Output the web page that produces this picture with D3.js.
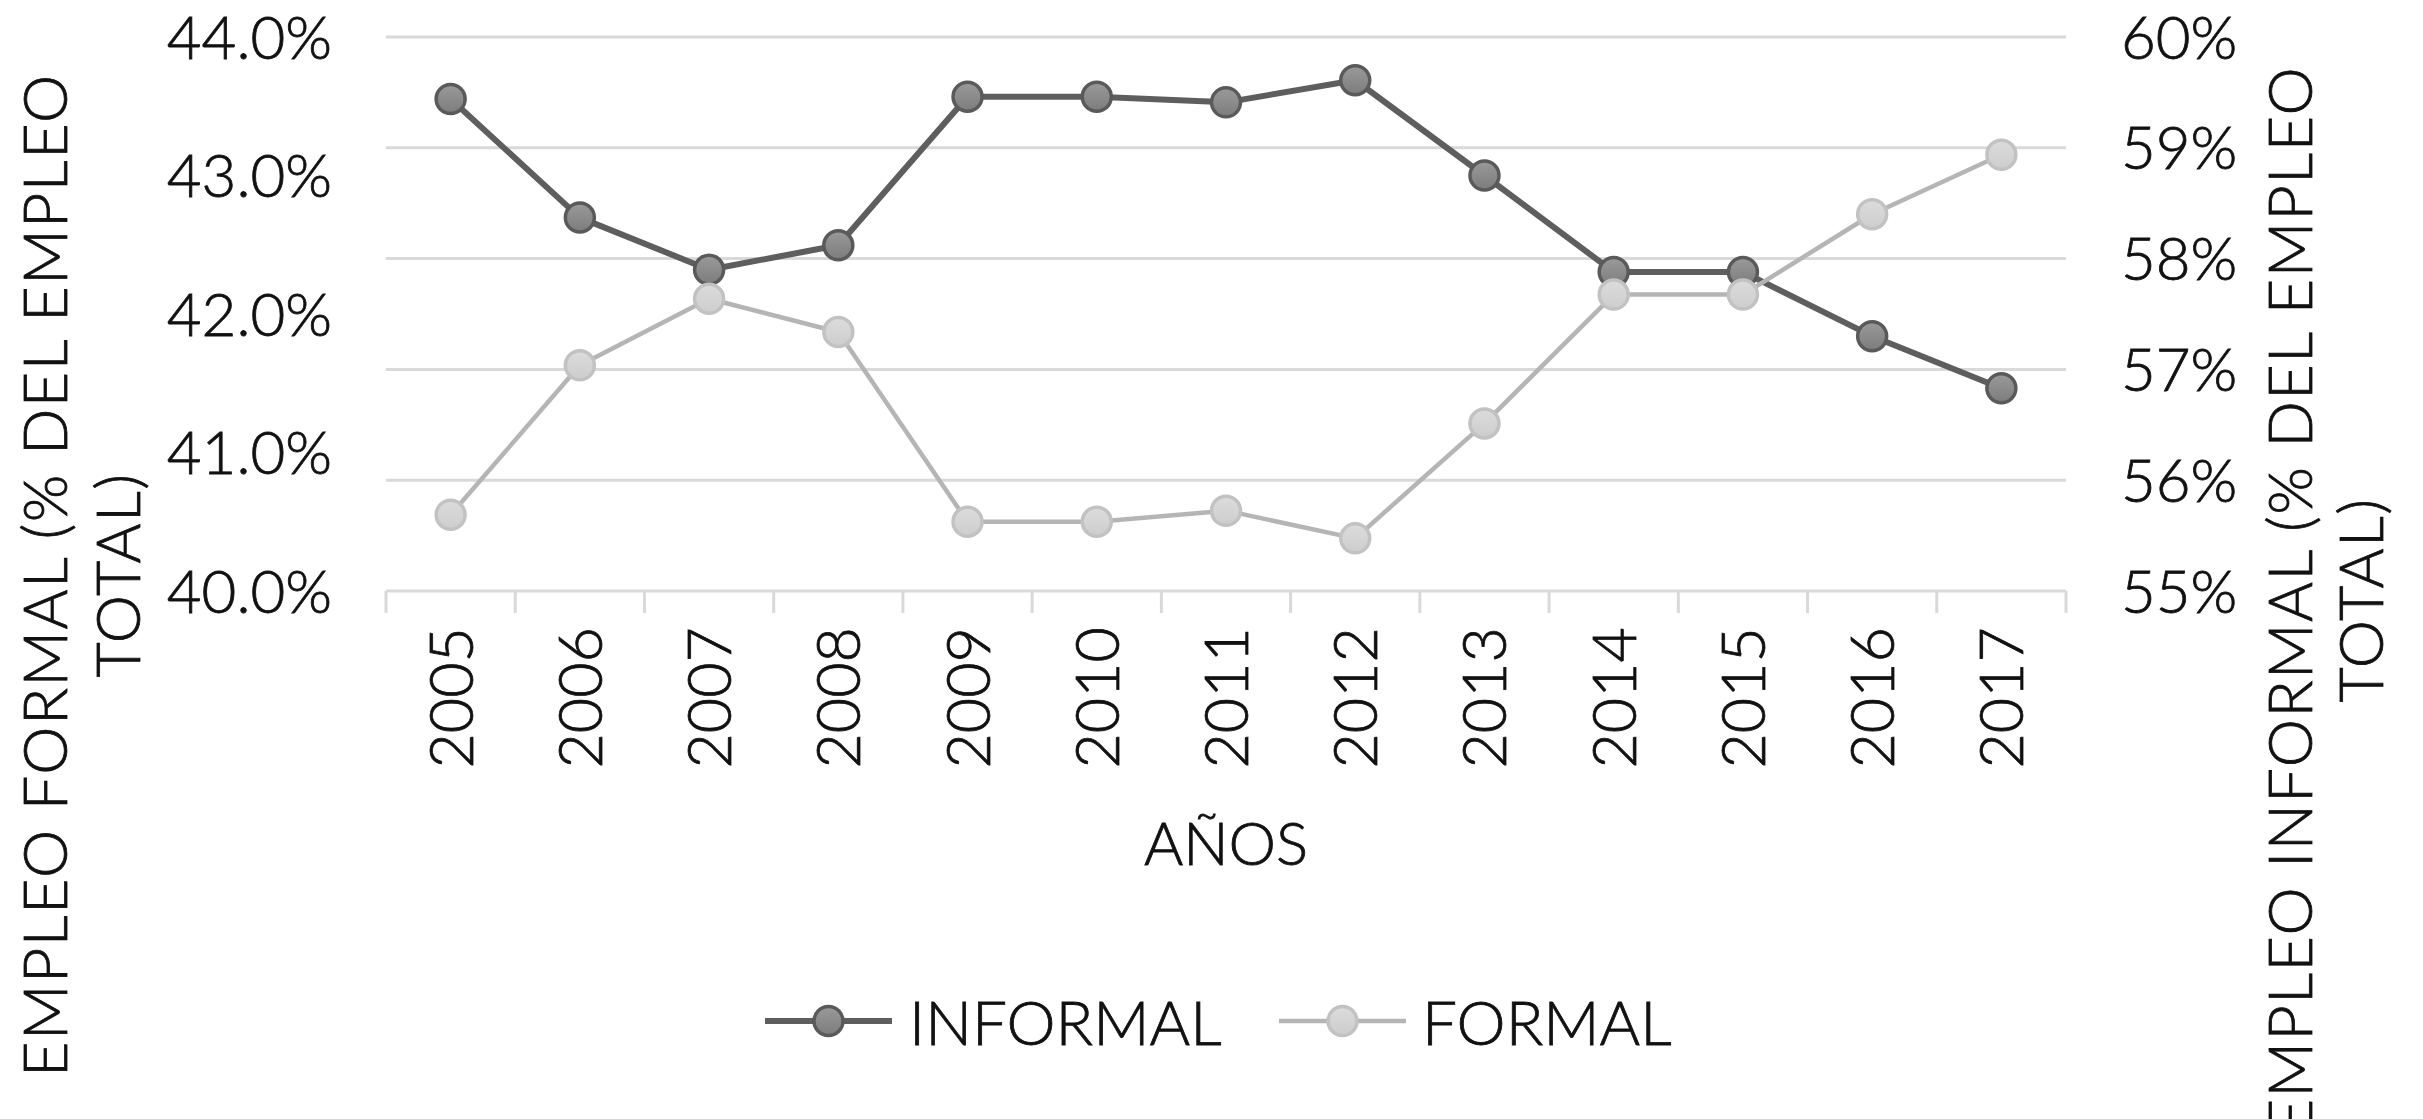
<!DOCTYPE html>
<html>
<head>
<meta charset="utf-8">
<script src="https://cdn.jsdelivr.net/npm/d3@7"></script>
<style>
  html, body { margin: 0; padding: 0; background: #fff; }
  text { font-family: Lato, "Open Sans", sans-serif; font-weight: 300; fill: #111; stroke: #111; stroke-width: 0.8px; }
</style>
</head>
<body>
<div id="chart"></div>
<script>
// datos
const years = ['2005', '2006', '2007', '2008', '2009', '2010', '2011', '2012', '2013', '2014', '2015', '2016', '2017'];
const informal = [59.44, 58.37, 57.90, 58.12, 59.46, 59.46, 59.41, 59.61, 58.75, 57.88, 57.88, 57.30, 56.83];
const formal = [40.55, 41.63, 42.11, 41.87, 40.50, 40.50, 40.58, 40.38, 41.21, 42.14, 42.14, 42.72, 43.15];
const leftTicks = [40, 41, 42, 43, 44];
const rightTicks = [55, 56, 57, 58, 59, 60];

const width = 2423, height = 1119;
const plot = {left: 386, right: 2066, top: 37, bottom: 591};

const svg = d3.select('#chart').append('svg')
    .attr('width', width)
    .attr('height', height);

const defs = svg.append('defs');
const gradInf = defs.append('linearGradient').attr('id', 'g-inf').attr('x1', 0).attr('y1', 0).attr('x2', 0).attr('y2', 1);
gradInf.append('stop').attr('offset', '0%').attr('stop-color', '#9a9a9a');
gradInf.append('stop').attr('offset', '100%').attr('stop-color', '#7c7c7c');
const gradFor = defs.append('linearGradient').attr('id', 'g-for').attr('x1', 0).attr('y1', 0).attr('x2', 0).attr('y2', 1);
gradFor.append('stop').attr('offset', '0%').attr('stop-color', '#dcdcdc');
gradFor.append('stop').attr('offset', '100%').attr('stop-color', '#cdcdcd');

const x = d3.scaleBand().domain(years).range([plot.left, plot.right]).padding(0);
const yL = d3.scaleLinear().domain([40, 44]).range([plot.bottom, plot.top]);
const yR = d3.scaleLinear().domain([55, 60]).range([plot.bottom, plot.top]);

// lineas de cuadricula (eje secundario)
svg.append('g').selectAll('line')
    .data(rightTicks.slice(1))
    .enter().append('line')
    .attr('x1', plot.left).attr('x2', plot.right)
    .attr('y1', d => yR(d)).attr('y2', d => yR(d))
    .attr('stroke', '#d9d9d9')
    .attr('stroke-width', 3);

// eje x
svg.append('line')
    .attr('x1', plot.left).attr('x2', plot.right)
    .attr('y1', plot.bottom).attr('y2', plot.bottom)
    .attr('stroke', '#d9d9d9').attr('stroke-width', 3);

const bounds = years.map(d => x(d)).concat([plot.right]);
svg.append('g').selectAll('line')
    .data(bounds)
    .enter().append('line')
    .attr('x1', d => d).attr('x2', d => d)
    .attr('y1', plot.bottom).attr('y2', plot.bottom + 22)
    .attr('stroke', '#d9d9d9').attr('stroke-width', 3);

svg.append('g').selectAll('text')
    .data(years)
    .enter().append('text')
    .attr('transform', d => `translate(${x(d) + x.bandwidth() / 2 + 22}, 627) rotate(-90)`)
    .attr('text-anchor', 'end')
    .style('font-size', '61px')
    .text(d => d);

// etiquetas eje izquierdo
svg.append('g').selectAll('text')
    .data(leftTicks)
    .enter().append('text')
    .attr('x', 332)
    .attr('y', d => yL(d))
    .attr('dy', '0.36em')
    .attr('text-anchor', 'end')
    .style('font-size', '60px')
    .text(d => d.toFixed(1) + '%');

// etiquetas eje derecho
svg.append('g').selectAll('text')
    .data(rightTicks)
    .enter().append('text')
    .attr('x', 2121)
    .attr('y', d => yR(d))
    .attr('dy', '0.36em')
    .attr('text-anchor', 'start')
    .style('font-size', '60px')
    .text(d => d + '%');

// titulos de ejes
function axisTitle(lines, xs, cy) {
    lines.forEach((t, i) => {
        svg.append('text')
            .attr('transform', `translate(${xs[i]}, ${cy}) rotate(-90)`)
            .attr('text-anchor', 'middle')
            .style('font-size', '61px')
            .style('letter-spacing', '1.5px')
            .text(t);
    });
}
axisTitle(['EMPLEO FORMAL (% DEL EMPLEO', 'TOTAL)'], [67, 140], 575);
axisTitle(['EMPLEO INFORMAL (% DEL EMPLEO', 'TOTAL)'], [2312, 2383], 600);

svg.append('text')
    .attr('x', (plot.left + plot.right) / 2)
    .attr('y', 865)
    .attr('text-anchor', 'middle')
    .style('font-size', '60px')
    .text('AÑOS');

// series
const series = [
    {name: 'INFORMAL', values: informal, y: yR, line: '#5e5e5e', lw: 6, fill: 'url(#g-inf)', stroke: '#5a5a5a'},
    {name: 'FORMAL', values: formal, y: yL, line: '#b5b5b5', lw: 4.5, fill: 'url(#g-for)', stroke: '#c2c2c2'}
];

series.forEach(s => {
    const line = d3.line()
        .x((d, i) => x(years[i]) + x.bandwidth() / 2)
        .y(d => s.y(d));
    svg.append('path')
        .datum(s.values)
        .attr('d', line)
        .attr('fill', 'none')
        .attr('stroke', s.line)
        .attr('stroke-width', s.lw)
        .attr('stroke-linejoin', 'round');
    svg.append('g').selectAll('circle')
        .data(s.values)
        .enter().append('circle')
        .attr('cx', (d, i) => x(years[i]) + x.bandwidth() / 2)
        .attr('cy', d => s.y(d))
        .attr('r', 14.5)
        .attr('fill', s.fill)
        .attr('stroke', s.stroke)
        .attr('stroke-width', 3.5);
});

// leyenda
const legendItems = [
    {s: series[0], x0: 765, x1: 892, tx: 909},
    {s: series[1], x0: 1279, x1: 1406, tx: 1422}
];
legendItems.forEach(it => {
    const g = svg.append('g');
    g.append('line')
        .attr('x1', it.x0).attr('x2', it.x1)
        .attr('y1', 1021).attr('y2', 1021)
        .attr('stroke', it.s.line).attr('stroke-width', it.s.lw);
    g.append('circle')
        .attr('cx', (it.x0 + it.x1) / 2).attr('cy', 1021)
        .attr('r', 14.5)
        .attr('fill', it.s.fill)
        .attr('stroke', it.s.stroke)
        .attr('stroke-width', 3.5);
    g.append('text')
        .attr('x', it.tx).attr('y', 1045)
        .style('font-size', '62px')
        .text(it.s.name);
});
</script>
</body>
</html>
